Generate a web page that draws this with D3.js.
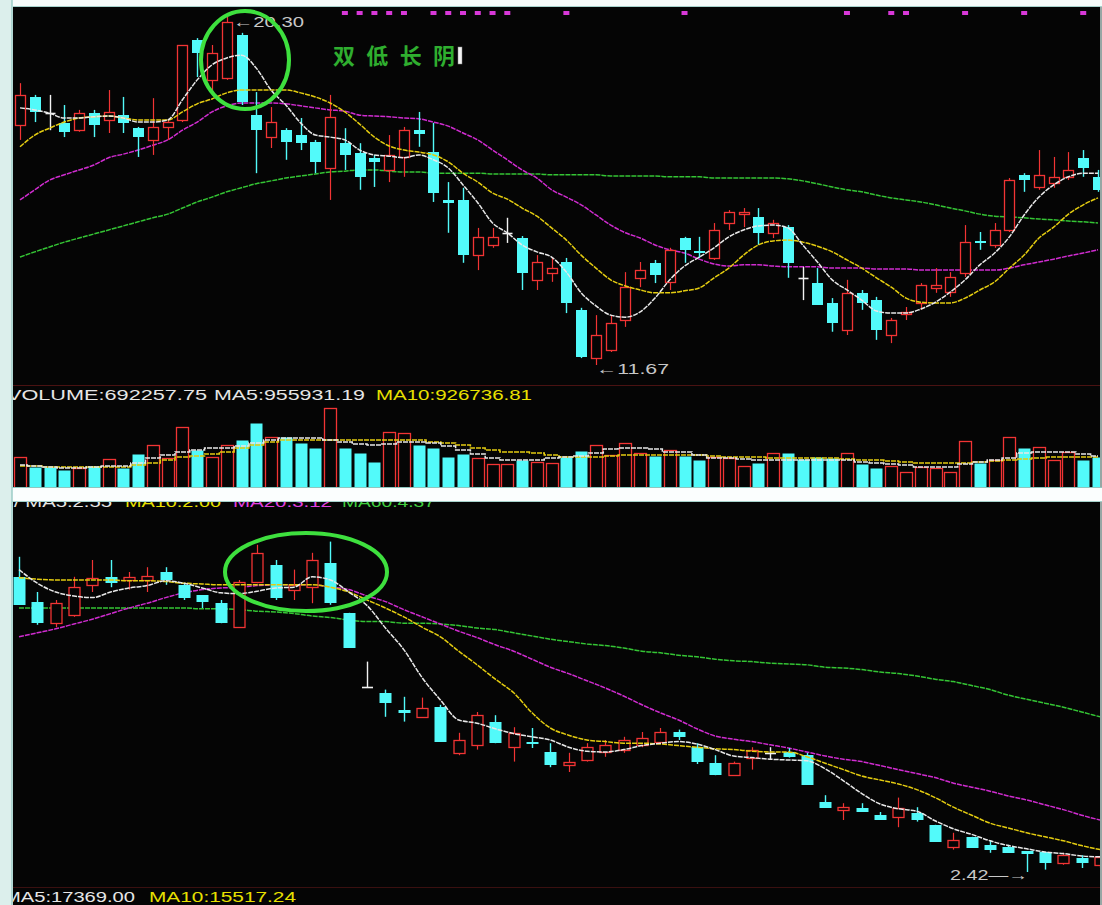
<!DOCTYPE html>
<html><head><meta charset="utf-8">
<script src="https://cdn.jsdelivr.net/npm/d3@7"></script>
<style>
html,body{margin:0;padding:0;background:#fff;}
svg{display:block;}
</style></head>
<body>
<svg id="c" width="1102" height="905"></svg>
<script>
// ---------- TOP CHART DATA (74 daily bars) ----------
const topOpen  = [17.59,18.28,17.88,17.64,17.46,17.88,17.71,17.83,17.51,17.22, 17.54,17.71,19.68,18.70,18.75,19.81,17.83,17.29,17.46,17.34, 17.17,16.53,17.14,16.90,16.77,16.48,16.80,17.46,16.92,15.74, 15.74,14.38,14.63,14.93,14.80,13.77,13.94,14.21,13.03,11.84, 12.04,12.78,13.82,14.19,13.72,14.80,14.48,14.31,15.17,15.39, 15.32,14.93,15.07,13.82,13.69,13.20,12.53,13.45,13.27,12.41, 12.93,13.20,13.57,13.47,13.94,14.73,14.63,15.00,16.36,16.06, 16.16,16.31,16.77,16.31];
const topHigh  = [18.62,18.33,18.33,18.08,17.96,17.96,18.45,18.28,17.54,18.25, 17.71,19.56,19.73,19.56,20.30,19.86,18.40,18.03,17.51,17.76, 17.22,18.33,17.51,17.14,16.85,17.34,17.54,17.91,17.64,16.18, 16.04,15.05,15.05,15.30,14.85,14.38,14.33,14.31,13.08,12.90, 12.90,13.96,14.21,14.26,14.56,14.83,14.83,15.17,15.49,15.54, 15.54,15.25,15.12,14.09,14.06,13.32,13.77,13.52,13.35,12.83, 13.10,13.69,14.06,13.96,15.12,14.95,15.17,16.28,16.40,16.97, 16.80,16.92,16.97,16.48];
const topLow   = [17.22,17.66,17.46,17.29,17.42,17.29,17.39,17.39,16.80,16.85, 17.22,17.66,18.77,18.33,18.70,18.08,16.40,17.02,16.73,16.97, 16.40,15.74,16.48,15.99,16.06,16.18,16.31,17.05,15.69,14.93, 14.19,14.01,14.56,14.68,13.52,13.52,13.72,12.95,11.84,11.67, 11.99,12.61,13.59,13.69,13.52,14.19,14.31,14.26,15.00,15.07, 14.63,14.80,13.82,13.27,13.15,12.49,12.41,13.03,12.29,12.21, 12.78,13.03,13.45,13.35,13.84,14.51,14.56,14.95,15.94,15.99, 16.04,16.23,16.31,15.94];
const topClose = [18.33,17.91,17.88,17.42,17.88,17.59,17.91,17.64,17.29,17.54, 17.66,19.56,19.36,19.36,20.13,18.16,17.46,17.66,17.17,17.14, 16.68,17.78,16.85,16.31,16.68,16.85,17.46,17.37,15.91,15.67, 14.38,14.83,14.83,14.93,13.94,14.21,14.06,13.20,11.87,12.41, 12.71,13.59,14.01,13.89,14.51,14.51,14.43,15.00,15.44,15.44, 14.93,15.17,14.19,13.82,13.15,12.71,13.45,13.20,12.53,12.78, 12.98,13.64,13.64,13.84,14.70,14.68,15.00,16.23,16.23,16.36, 16.31,16.48,16.53,15.99];
const topMA5   = [18.01,17.96,17.88,17.76,17.76,17.79,17.81,17.76,17.66,17.66, 17.71,18.21,18.70,19.07,19.24,19.31,18.99,18.45,18.08,17.64, 17.34,17.29,17.22,16.97,16.85,16.82,16.78,16.85,16.73,16.53, 16.11,15.67,15.17,14.93,14.63,14.46,14.33,13.96,13.45,13.13, 12.90,12.85,12.98,13.32,13.77,14.11,14.33,14.56,14.83,15.00, 15.10,15.12,15.05,14.63,14.21,13.77,13.52,13.27,13.00,12.95, 12.95,13.05,13.22,13.47,13.77,14.14,14.43,14.83,15.37,15.81, 16.11,16.31,16.40,16.40];
const topMA10  = [17.05,17.34,17.51,17.66,17.76,17.79,17.81,17.76,17.71,17.71, 17.71,17.91,18.11,18.23,18.38,18.45,18.45,18.45,18.45,18.38, 18.28,18.13,17.91,17.61,17.29,17.07,16.97,16.92,16.85,16.68, 16.40,16.18,15.91,15.76,15.54,15.34,15.05,14.75,14.38,14.06, 13.77,13.62,13.52,13.45,13.45,13.50,13.57,13.82,14.06,14.38, 14.63,14.73,14.75,14.70,14.60,14.46,14.26,14.06,13.82,13.59, 13.32,13.22,13.20,13.20,13.32,13.52,13.72,14.06,14.38,14.80, 15.07,15.39,15.62,15.79];
const topMA20  = [15.74,15.99,16.23,16.36,16.48,16.60,16.78,16.87,16.97,17.09, 17.22,17.46,17.66,17.91,18.06,18.13,18.13,18.13,18.11,18.06, 18.01,17.96,17.93,17.83,17.81,17.79,17.76,17.74,17.66,17.56, 17.39,17.22,16.97,16.73,16.48,16.28,15.99,15.81,15.62,15.37, 15.12,14.93,14.80,14.63,14.51,14.43,14.28,14.16,14.11,14.14, 14.14,14.11,14.09,14.09,14.09,14.06,14.06,14.06,14.04,14.04, 14.04,14.01,14.01,14.01,14.01,14.01,14.01,14.06,14.14,14.21, 14.28,14.36,14.43,14.51];
const topMA60  = [14.33,14.46,14.58,14.70,14.80,14.90,15.00,15.10,15.20,15.30, 15.39,15.54,15.69,15.81,15.94,16.04,16.14,16.21,16.28,16.33, 16.38,16.43,16.45,16.48,16.48,16.45,16.43,16.43,16.40,16.40, 16.40,16.40,16.38,16.38,16.38,16.38,16.36,16.36,16.36,16.36, 16.33,16.33,16.33,16.33,16.31,16.31,16.31,16.28,16.28,16.28, 16.28,16.28,16.26,16.21,16.14,16.06,15.99,15.94,15.86,15.79, 15.74,15.69,15.62,15.54,15.47,15.39,15.34,15.32,15.30,15.27, 15.25,15.22,15.20,15.17];
const topVolume = [690000,460000,460000,391000,437000,483000,644000,437000,759000,966000, 667000,1380000,851000,690000,966000,1081000,1472000,1150000,1150000,1012000, 897000,1817000,897000,782000,575000,1265000,1242000,966000,897000,690000, 759000,667000,529000,529000,621000,575000,552000,690000,828000,966000, 736000,1012000,782000,713000,851000,713000,621000,690000,667000,483000, 552000,782000,782000,644000,690000,667000,782000,529000,437000,483000, 345000,460000,437000,345000,1058000,552000,621000,1150000,897000,920000, 621000,805000,621000,692258];
const topVolMA5  = [506000,483000,460000,437000,437000,460000,483000,483000,552000,667000, 736000,805000,851000,897000,897000,943000,1012000,1081000,1127000,1127000, 1127000,1081000,1035000,989000,966000,989000,1035000,1035000,1012000,943000, 851000,759000,667000,621000,621000,621000,667000,690000,713000,782000, 874000,897000,897000,874000,805000,805000,736000,667000,667000,644000, 621000,621000,621000,621000,621000,621000,621000,575000,552000,529000, 506000,460000,460000,460000,529000,575000,621000,667000,782000,805000, 805000,805000,759000,713000];
const topVolMA10 = [483000,483000,460000,460000,460000,460000,460000,460000,506000,552000, 621000,690000,713000,759000,805000,897000,966000,1035000,1081000,1081000, 1081000,1081000,1081000,1081000,1081000,1081000,1081000,1081000,1035000,1012000, 966000,897000,851000,805000,805000,782000,736000,690000,690000,690000, 713000,736000,736000,736000,736000,736000,736000,713000,690000,690000, 690000,667000,667000,667000,667000,667000,644000,621000,621000,598000, 575000,552000,552000,552000,552000,575000,598000,621000,644000,667000, 690000,690000,690000,690000];
const signalBars = [22,23,24,25,26,28,29,30,31,32,33,37,45,56,59,60,64,68,72];

// ---------- LOWER CHART DATA (60 daily bars) ----------
const lowOpen  = [6.11,5.80,5.53,5.63,6.01,6.11,6.07,6.07,6.17,6.01, 5.88,5.78,5.48,6.05,6.26,5.95,5.98,6.28,5.66,4.73, 4.66,4.45,4.36,4.48,3.91,4.01,4.30,3.98,4.05,3.92, 3.76,3.82,3.92,3.95,4.01,4.05,4.17,3.98,3.78,3.63, 3.85,3.91,3.92,3.88,3.30,3.20,3.22,3.13,3.11,3.16, 3.01,2.73,2.86,2.76,2.73,2.68,2.67,2.53,2.60,2.51];
const lowHigh  = [6.36,5.92,5.82,6.11,6.32,6.32,6.17,6.23,6.23,6.03, 5.88,5.82,6.07,6.51,6.32,6.20,6.41,6.55,5.66,5.05, 4.70,4.61,4.60,4.51,4.16,4.42,4.38,4.23,4.22,4.03, 3.91,4.03,4.07,4.11,4.17,4.22,4.20,4.03,3.88,3.80, 3.98,3.98,3.97,3.91,3.38,3.28,3.28,3.17,3.35,3.23, 3.01,2.91,2.86,2.82,2.76,2.68,2.67,2.66,2.63,2.63];
const lowLow   = [5.76,5.51,5.48,5.61,5.92,5.98,5.95,5.92,6.01,5.82, 5.72,5.53,5.48,6.03,5.82,5.82,5.78,5.76,5.22,4.73, 4.36,4.30,4.35,4.05,3.88,3.95,4.03,3.80,3.97,3.73, 3.67,3.80,3.86,3.91,3.98,4.03,4.07,3.77,3.63,3.63, 3.70,3.82,3.85,3.51,3.22,3.07,3.17,3.07,2.98,3.05, 2.80,2.70,2.72,2.66,2.66,2.42,2.45,2.51,2.47,2.47];
const lowClose = [5.76,5.53,5.78,5.98,6.10,6.03,6.11,6.12,6.07,5.85, 5.80,5.53,6.05,6.41,5.85,6.01,6.32,5.78,5.22,4.73, 4.53,4.41,4.47,4.05,4.07,4.38,4.03,4.16,4.02,3.76, 3.80,3.98,4.01,4.07,4.10,4.17,4.11,3.80,3.63,3.78, 3.95,3.91,3.86,3.51,3.22,3.23,3.17,3.07,3.22,3.07, 2.80,2.82,2.72,2.70,2.66,2.65,2.53,2.63,2.53,2.61];
const lowMA5   = [6.20,6.03,5.92,5.87,5.85,5.92,5.97,6.00,6.06,6.03, 5.97,5.91,5.90,5.93,5.97,5.98,6.11,6.07,5.92,5.75, 5.47,5.20,4.85,4.57,4.32,4.28,4.21,4.15,4.11,4.07, 3.98,3.93,3.92,3.95,4.00,4.03,4.05,4.02,3.95,3.87, 3.85,3.83,3.82,3.81,3.71,3.56,3.40,3.27,3.21,3.18, 3.06,2.96,2.89,2.81,2.75,2.71,2.67,2.65,2.62,2.61];
const lowMA10  = [6.10,6.08,6.07,6.07,6.07,6.07,6.06,6.06,6.05,6.03, 6.02,6.01,6.01,6.01,6.01,6.01,6.01,5.98,5.92,5.82, 5.72,5.61,5.48,5.36,5.18,5.01,4.83,4.66,4.41,4.22, 4.13,4.07,4.05,4.03,4.03,4.02,4.00,3.98,3.96,3.95, 3.93,3.92,3.92,3.86,3.78,3.70,3.62,3.57,3.52,3.45, 3.35,3.23,3.13,3.03,2.97,2.91,2.86,2.81,2.75,2.70];
const lowMA20  = [5.36,5.41,5.46,5.52,5.58,5.65,5.72,5.78,5.85,5.91, 5.95,5.97,5.98,6.00,6.01,6.01,6.01,5.98,5.95,5.87, 5.80,5.70,5.61,5.52,5.43,5.35,5.26,5.18,5.08,4.98, 4.90,4.81,4.72,4.62,4.51,4.41,4.32,4.21,4.12,4.08, 4.05,4.01,3.97,3.92,3.87,3.83,3.80,3.75,3.70,3.65, 3.60,3.53,3.48,3.43,3.37,3.32,3.26,3.20,3.13,3.07];
const lowMA60  = [5.72,5.72,5.72,5.72,5.72,5.72,5.72,5.72,5.72,5.72, 5.71,5.71,5.70,5.68,5.67,5.65,5.62,5.60,5.57,5.55, 5.55,5.53,5.53,5.52,5.50,5.47,5.45,5.41,5.37,5.33, 5.30,5.27,5.25,5.22,5.18,5.16,5.13,5.11,5.08,5.06, 5.05,5.03,5.02,5.01,4.98,4.97,4.95,4.92,4.90,4.87, 4.83,4.80,4.75,4.70,4.63,4.58,4.53,4.48,4.42,4.36];

// ---------- TEXT ----------
const volLabels = [
  {t:"VOLUME:692257.75", c:"#e6e6e6", x:7,   w:200},
  {t:"MA5:955931.19",    c:"#e6e6e6", x:214, w:151},
  {t:"MA10:926736.81",   c:"#e8e000", x:376, w:156}
];
const lowLabels = [
  {t:"/ MA5:2.55",  c:"#e6e6e6", x:14,  w:98},
  {t:"MA10:2.00",   c:"#e8e000", x:125, w:96},
  {t:"MA20:3.12",   c:"#e040e0", x:233, w:99},
  {t:"MA60:4.37",   c:"#40d040", x:342, w:93}
];
const bottomLabels = [
  {t:"MA5:17369.00",  c:"#e6e6e6", x:4,   w:131},
  {t:"MA10:15517.24", c:"#e8e000", x:149, w:147}
];
const noteText = "双低长阴";
const highLabel = "←20.30", lowLabel = "←11.67", low2Label = "2.42—→";

// ---------- DRAW ----------
const RED = "#f23434", CYAN = "#52fafa", WHITE = "#f2f2f2";
const MA_COL = {m5:"#e8e8e8", m10:"#e4cc10", m20:"#d02cd0", m60:"#34c434"};
const FONT = "'Liberation Sans', Arial, sans-serif";
const svg = d3.select("#c");

// frame
svg.append("rect").attr("width",1102).attr("height",905).attr("fill","#f6fbfa");
svg.append("rect").attr("x",13).attr("y",7).attr("width",1089).attr("height",480).attr("fill","#050505");
svg.append("rect").attr("x",13).attr("y",500).attr("width",1089).attr("height",405).attr("fill","#050505");
svg.append("line").attr("x1",13).attr("x2",1102).attr("y1",6.5).attr("y2",6.5).attr("stroke","#a6d2cc");
svg.append("line").attr("x1",1101).attr("x2",1101).attr("y1",7).attr("y2",487).attr("stroke","#c8dcda").attr("stroke-width",1.5);
svg.append("line").attr("x1",1101).attr("x2",1101).attr("y1",500).attr("y2",905).attr("stroke","#c8dcda").attr("stroke-width",1.5);

const defs = svg.append("defs");
function clip(id,x,y,w,h){defs.append("clipPath").attr("id",id).append("rect").attr("x",x).attr("y",y).attr("width",w).attr("height",h);}
clip("cTop",13,8,1087,376);
clip("cVol",13,404,1087,83);
clip("cLow",13,502,1087,385);

// scales
const xTop = d3.scalePoint().domain(d3.range(topOpen.length)).range([20,1098]);
const yTop = d3.scaleLinear().domain([11.67,20.30]).range([365,15]);
const yVol = d3.scaleLinear().domain([0,1817000]).range([487,408]);
const xLow = d3.scalePoint().domain(d3.range(lowOpen.length)).range([19,1100]);
const yLow = d3.scaleLinear().domain([2.42,6.57]).range([872,540]);

// faint separators
svg.append("line").attr("x1",13).attr("x2",1100).attr("y1",385.5).attr("y2",385.5).attr("stroke","#4a1212");
svg.append("line").attr("x1",13).attr("x2",1100).attr("y1",887.5).attr("y2",887.5).attr("stroke","#3a1010");

function drawCandles(g, x, y, O, H, L, C, bw){
  const bars = g.selectAll("g.k").data(d3.range(O.length)).join("g").attr("class","k");
  bars.each(function(i){
    const s = d3.select(this);
    const cx = Math.round(x(i)) + 0.5;
    const o=O[i], c=C[i];
    const up = c>o, dn = c<o;
    const top = Math.round(y(Math.max(o,c))) + 0.5, bot = Math.round(y(Math.min(o,c))) + 0.5;
    const yh = y(H[i]), yl = y(L[i]);
    if(up){
      if (yh < top) s.append("line").attr("x1",cx).attr("x2",cx).attr("y1",yh).attr("y2",top).attr("stroke",RED).attr("stroke-width",1.2);
      if (yl > bot) s.append("line").attr("x1",cx).attr("x2",cx).attr("y1",bot).attr("y2",yl).attr("stroke",RED).attr("stroke-width",1.2);
      s.append("rect").attr("x",cx-bw/2).attr("y",top).attr("width",bw).attr("height",Math.max(bot-top,1.5))
        .attr("fill","#050505").attr("stroke",RED).attr("stroke-width",1.3);
    } else if(dn){
      s.append("line").attr("x1",cx).attr("x2",cx).attr("y1",yh).attr("y2",yl).attr("stroke",CYAN).attr("stroke-width",1.4);
      s.append("rect").attr("x",cx-bw/2-0.5).attr("y",top-0.5).attr("width",bw+1).attr("height",Math.max(bot-top,2))
        .attr("fill",CYAN);
    } else {
      s.append("line").attr("x1",cx).attr("x2",cx).attr("y1",yh).attr("y2",yl).attr("stroke",WHITE).attr("stroke-width",1.4);
      s.append("line").attr("x1",cx-bw/2).attr("x2",cx+bw/2).attr("y1",top).attr("y2",top).attr("stroke",WHITE).attr("stroke-width",1.6);
    }
  });
}
function drawMA(g, x, y, vals, col, curve){
  const ln = d3.line().x((d,i)=>x(i)).y(d=>y(d)).curve(curve||d3.curveMonotoneX);
  g.append("path").attr("d",ln(vals)).attr("fill","none").attr("stroke",col).attr("stroke-width",1.5).attr("stroke-dasharray","5,1");
}

// ---- top price chart ----
const gTop = svg.append("g").attr("clip-path","url(#cTop)");
drawMA(gTop,xTop,yTop,topMA60,MA_COL.m60);
drawMA(gTop,xTop,yTop,topMA20,MA_COL.m20);
drawCandles(gTop,xTop,yTop,topOpen,topHigh,topLow,topClose,10);
drawMA(gTop,xTop,yTop,topMA10,MA_COL.m10);
drawMA(gTop,xTop,yTop,topMA5,MA_COL.m5);
gTop.selectAll("rect.sig").data(signalBars).join("rect").attr("class","sig")
  .attr("x",d=>xTop(d)-3).attr("y",11).attr("width",6).attr("height",4).attr("fill","#d838d8");
svg.append("text").attr("x",233).attr("y",27).attr("fill","#c8c8c8").attr("font-family",FONT).attr("font-size",15)
  .attr("textLength",71).attr("lengthAdjust","spacingAndGlyphs").text(highLabel);
svg.append("text").attr("x",596).attr("y",374).attr("fill","#c8c8c8").attr("font-family",FONT).attr("font-size",15)
  .attr("textLength",73).attr("lengthAdjust","spacingAndGlyphs").text(lowLabel);
svg.append("ellipse").attr("cx",245).attr("cy",60).attr("rx",44).attr("ry",49).attr("fill","none").attr("stroke","#3ee03e").attr("stroke-width",4);
svg.append("text").attr("x",333).attr("y",64).attr("fill","#2fae2f").attr("font-family","'Noto Sans CJK SC', sans-serif")
  .attr("font-size",22).attr("font-weight","bold").attr("textLength",122).attr("lengthAdjust","spacing").text(noteText);
svg.append("rect").attr("x",458).attr("y",47).attr("width",4).attr("height",17).attr("fill","#f4f4f4").attr("stroke","#888").attr("stroke-width",0.5);

// ---- volume ----
volLabels.forEach(l=>{
  svg.append("text").attr("x",l.x).attr("y",400).attr("fill",l.c).attr("font-family",FONT).attr("font-size",14)
    .attr("textLength",l.w).attr("lengthAdjust","spacingAndGlyphs").text(l.t);
});
const gVol = svg.append("g").attr("clip-path","url(#cVol)");
gVol.selectAll("rect.v").data(d3.range(topVolume.length)).join("rect").attr("class","v")
  .each(function(i){
    const c = topClose[i], o = topOpen[i];
    const up = c>o || (c===o && i>0 && c>=topClose[i-1]);
    const cx = Math.round(xTop(i))+0.5, w = 12;
    const y0 = Math.round(yVol(topVolume[i]))+0.5;
    d3.select(this).attr("x",cx-w/2).attr("y",y0).attr("width",w).attr("height",487-y0+2)
      .attr("fill",up?"#050505":CYAN).attr("stroke",up?RED:"none").attr("stroke-width",1.3);
  });
drawMA(gVol,xTop,yVol,topVolMA10,MA_COL.m10,d3.curveStep);
drawMA(gVol,xTop,yVol,topVolMA5,MA_COL.m5,d3.curveStep);

// ---- lower chart ----
const gLow = svg.append("g").attr("clip-path","url(#cLow)");
drawMA(gLow,xLow,yLow,lowMA60,MA_COL.m60);
drawMA(gLow,xLow,yLow,lowMA20,MA_COL.m20);
drawCandles(gLow,xLow,yLow,lowOpen,lowHigh,lowLow,lowClose,11);
drawMA(gLow,xLow,yLow,lowMA10,MA_COL.m10);
drawMA(gLow,xLow,yLow,lowMA5,MA_COL.m5);
svg.append("ellipse").attr("cx",306).attr("cy",572).attr("rx",81).attr("ry",39).attr("fill","none").attr("stroke","#3ee03e").attr("stroke-width",4);
svg.append("text").attr("x",950).attr("y",880).attr("fill","#c8c8c8").attr("font-family",FONT).attr("font-size",14)
  .attr("textLength",78).attr("lengthAdjust","spacingAndGlyphs").text(low2Label);

lowLabels.forEach(l=>{
  svg.append("text").attr("x",l.x).attr("y",507).attr("fill",l.c).attr("font-family",FONT).attr("font-size",14)
    .attr("textLength",l.w).attr("lengthAdjust","spacingAndGlyphs").text(l.t);
});
bottomLabels.forEach(l=>{
  svg.append("text").attr("x",l.x).attr("y",902).attr("fill",l.c).attr("font-family",FONT).attr("font-size",14)
    .attr("textLength",l.w).attr("lengthAdjust","spacingAndGlyphs").text(l.t);
});
// white gap between panels and left strip (drawn last to mask clipped text)
svg.append("rect").attr("x",0).attr("y",487).attr("width",1102).attr("height",15).attr("fill","#fbfefe");
svg.append("line").attr("x1",12).attr("x2",1102).attr("y1",501.5).attr("y2",501.5).attr("stroke","#a6d2cc");
svg.append("line").attr("x1",12).attr("x2",1102).attr("y1",487.5).attr("y2",487.5).attr("stroke","#8fc6bf");
svg.append("rect").attr("x",0).attr("y",0).attr("width",12).attr("height",905).attr("fill","#dcefec");
svg.append("line").attr("x1",12).attr("x2",12).attr("y1",0).attr("y2",905).attr("stroke","#9ccdc7").attr("stroke-width",1.5);
</script>
</body></html>
